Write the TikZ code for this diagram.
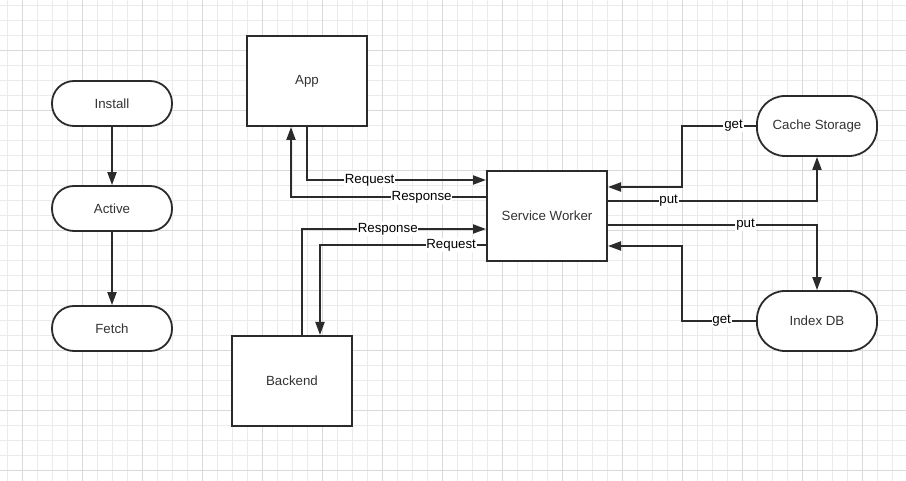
\documentclass[tikz,border=0pt]{standalone}
\usepackage{fontspec}
\setmainfont{Liberation Sans}
\usetikzlibrary{arrows.meta,calc}
\definecolor{gridminor}{HTML}{EBEBEB}
\definecolor{gridmajor}{HTML}{D9D9D9}
\definecolor{ink}{HTML}{2B2B2B}
\definecolor{txt}{HTML}{333333}
\tikzset{
  box/.style={draw=ink, line width=2pt, fill=white, rectangle, inner sep=0pt,
    minimum width=120pt, minimum height=90pt, text=txt, font=\fontsize{13.3}{16}\selectfont},
  stadium/.style={draw=ink, line width=1.8pt, fill=white, rectangle, rounded corners=22pt, inner sep=0pt,
    minimum width=120pt, minimum height=45pt, text=txt, font=\fontsize{13.3}{16}\selectfont},
  bigstadium/.style={stadium, minimum height=60pt, rounded corners=28pt},
  conn/.style={draw=ink, line width=2pt, -{Triangle[length=13pt,width=9pt]}},
  lbl/.style={fill=white, inner sep=0.8pt, text=black, font=\fontsize{13.3}{16}\selectfont}
}
\begin{document}
\begin{tikzpicture}[x=1pt,y=-1pt]
\useasboundingbox (0,0) rectangle (906,481);
\fill[white] (0,0) rectangle (906,481);
% grid
\foreach \x in {7.5,22.5,...,906} \draw[gridminor, line width=1pt] (\x,0) -- (\x,481);
\foreach \y in {5.5,20.5,...,481} \draw[gridminor, line width=1pt] (0,\y) -- (906,\y);
\foreach \x in {22.5,82.5,...,906} \draw[gridmajor, line width=1pt] (\x,0) -- (\x,481);
\foreach \y in {50.5,110.5,...,481} \draw[gridmajor, line width=1pt] (0,\y) -- (906,\y);

% left column
\node[stadium] (install) at (112,103.5) {Install};
\node[stadium] (active) at (112,208.5) {Active};
\node[stadium] (fetch) at (112,328.5) {Fetch};
\draw[conn] (install.south) -- (active.north);
\draw[conn] (active.south) -- (fetch.north);

% main boxes
\node[box] (app) at (307,81) {App};
\node[box] (backend) at (292,381) {Backend};
\node[box] (sw) at (547,216) {Service Worker};
\node[bigstadium] (cache) at (817,126) {Cache Storage};
\node[bigstadium] (idx) at (817,321) {Index DB};

% level coordinates
\coordinate (yreq) at (0,180);
\coordinate (yresp) at (0,197);
\coordinate (ybresp) at (0,229);
\coordinate (ybreq) at (0,245);
\coordinate (appup) at (291,0);
\coordinate (bkdown) at (320,0);
\coordinate (bkup) at (302,0);
\coordinate (bx) at (682,0);
\coordinate (ycget) at (0,187);
\coordinate (ycput) at (0,201);
\coordinate (yiput) at (0,225);
\coordinate (yiget) at (0,246);

% App <-> Service Worker
\draw[conn] (app.south) |- node[lbl,pos=0.675]{Request} (sw.west |- yreq);
\draw[conn] (sw.west |- yresp) -| node[lbl,pos=0.165]{Response} (appup |- app.south);

% Backend <-> Service Worker
\draw[conn] (bkup |- backend.north) |- node[lbl,pos=0.733]{Response} (sw.west |- ybresp);
\draw[conn] (sw.west |- ybreq) -| node[lbl,pos=0.105]{Request} (bkdown |- backend.north);

% Cache Storage
\draw[conn] (cache.west) -- node[lbl,pos=0.305]{get} (bx |- cache.west) |- (sw.east |- ycget);
\draw[conn] (sw.east |- ycput) -| node[lbl,pos=0.145]{put} (cache.south);

% Index DB
\draw[conn] (sw.east |- yiput) -| node[lbl,pos=0.329]{put} (idx.north);
\draw[conn] (idx.west) -- node[lbl,pos=0.465]{get} (bx |- idx.west) |- (sw.east |- yiget);
\end{tikzpicture}
\end{document}
